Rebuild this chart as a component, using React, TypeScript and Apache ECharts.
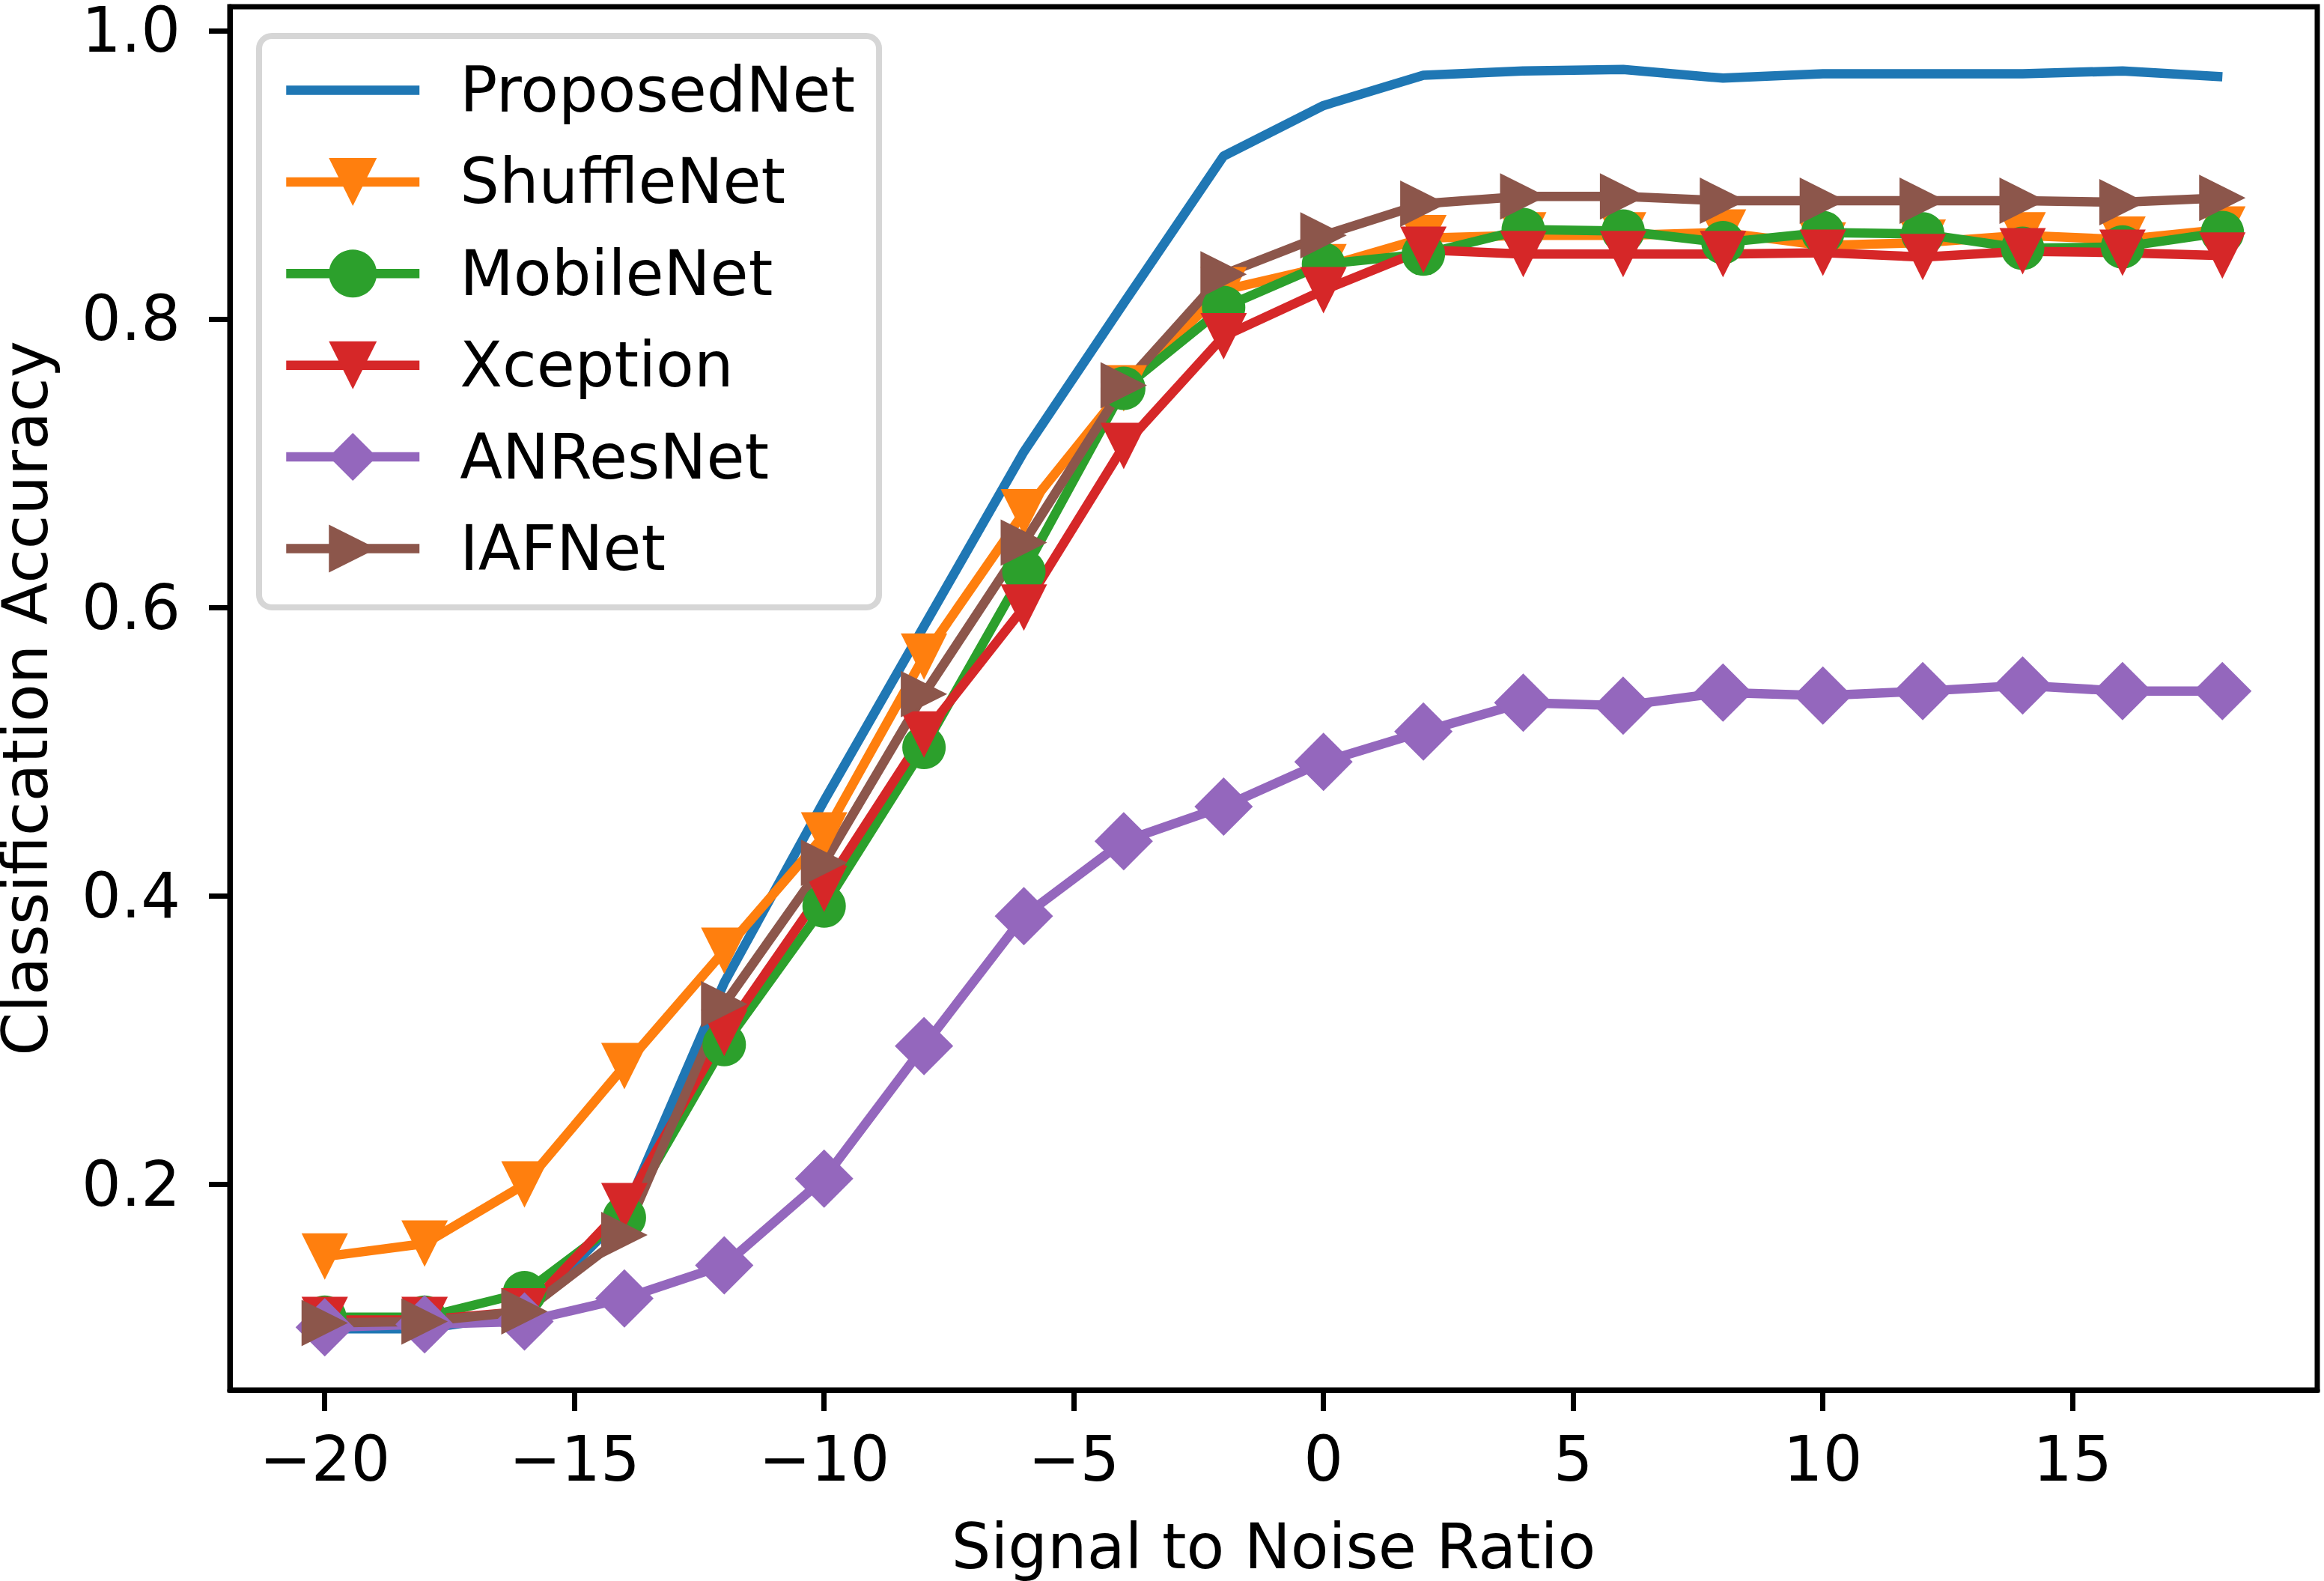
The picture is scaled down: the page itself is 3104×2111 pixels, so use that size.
import React, { useEffect, useRef } from "react";
import * as echarts from "echarts";

const snr = [-20, -18, -16, -14, -12, -10, -8, -6, -4, -2, 0, 2, 4, 6, 8, 10, 12, 14, 16, 18];
const proposedNet = [0.1, 0.1, 0.11, 0.18, 0.34, 0.466, 0.587, 0.708, 0.811, 0.913, 0.948, 0.969, 0.972, 0.973, 0.967, 0.97, 0.97, 0.97, 0.972, 0.968];
const shuffleNet = [0.15, 0.159, 0.2, 0.282, 0.362, 0.442, 0.566, 0.666, 0.752, 0.82, 0.836, 0.856, 0.858, 0.858, 0.86, 0.851, 0.853, 0.858, 0.855, 0.862];
const mobileNet = [0.108, 0.108, 0.125, 0.177, 0.297, 0.393, 0.503, 0.625, 0.752, 0.808, 0.838, 0.845, 0.862, 0.861, 0.853, 0.86, 0.859, 0.849, 0.85, 0.86];
const xception = [0.106, 0.106, 0.112, 0.185, 0.305, 0.405, 0.512, 0.6, 0.712, 0.788, 0.82, 0.848, 0.845, 0.845, 0.845, 0.846, 0.843, 0.847, 0.846, 0.844];
const anResNet = [0.101, 0.103, 0.105, 0.121, 0.144, 0.204, 0.296, 0.386, 0.438, 0.462, 0.493, 0.514, 0.534, 0.532, 0.541, 0.539, 0.542, 0.546, 0.542, 0.542];
const iafNet = [0.104, 0.105, 0.112, 0.165, 0.325, 0.423, 0.54, 0.645, 0.754, 0.831, 0.858, 0.88, 0.885, 0.885, 0.882, 0.882, 0.882, 0.882, 0.881, 0.884];

const xTicks = [-20, -15, -10, -5, 0, 5, 10, 15];
const yTicks = [0.2, 0.4, 0.6, 0.8, 1.0];

const FONT = "DejaVu Sans";
const FS = 83;
const LW = 12.5;

function pairs(ys: number[]) {
  return snr.map((x, i) => [x, ys[i]]);
}

export default function App() {
  const ref = useRef<HTMLDivElement>(null);
  useEffect(() => {
    if (!ref.current) return;
    const chart = echarts.init(ref.current, undefined, { renderer: "svg" });
    const mk = (name: string, data: number[], color: string, symbol: string, size: number, rotate = 0) => ({
      type: "line",
      name,
      data: pairs(data),
      symbol,
      symbolSize: size,
      symbolRotate: rotate,
      showSymbol: symbol !== "none",
      showAllSymbol: true,
      color,
      lineStyle: { width: LW, color, join: "round", cap: "butt" },
      itemStyle: { color, borderWidth: 0 },
      emphasis: { disabled: true },
      silent: true,
    });
    chart.setOption({
      animation: false,
      backgroundColor: "#ffffff",
      grid: {
        left: 307,
        right: 9,
        top: 9,
        bottom: 255,
        show: true,
        borderColor: "#000000",
        borderWidth: 7,
        backgroundColor: "transparent",
        containLabel: false,
        outerBoundsMode: "none",
      },
      legend: {
        orient: "vertical",
        left: 346,
        top: 48,
        padding: [31, 32, 37, 30],
        itemWidth: 178,
        itemHeight: 80,
        itemGap: 39.4,
        backgroundColor: "rgba(255,255,255,0.8)",
        borderColor: "#d6d6d6",
        borderWidth: 8,
        borderRadius: 17,
        selectedMode: false,
        lineStyle: { width: LW },
        itemStyle: { borderWidth: 0 },
        textStyle: {
          fontFamily: FONT,
          fontSize: FS,
          color: "#000000",
          lineHeight: 80,
          padding: [0, 0, 0, 49],
        },
        data: [
          { name: "ProposedNet", icon: "path://M0,0L178,0L178,12.5L0,12.5Z" },
          { name: "ShuffleNet" },
          { name: "MobileNet" },
          { name: "Xception" },
          { name: "ANResNet" },
          { name: "IAFNet" },
        ],
      },
      xAxis: {
        type: "value",
        min: -21.9,
        max: 19.9,
        name: "Signal to Noise Ratio",
        nameLocation: "middle",
        nameGap: 174,
        nameTextStyle: { fontFamily: FONT, fontSize: FS, color: "#000000", lineHeight: 70 },
        axisLine: { show: true, onZero: false, lineStyle: { color: "#000000", width: 7 } },
        axisTick: {
          show: true,
          length: 28,
          lineStyle: { color: "#000000", width: 7 },
          customValues: xTicks,
        },
        axisLabel: {
          show: true,
          margin: 51,
          fontFamily: FONT,
          fontSize: FS,
          color: "#000000",
          lineHeight: 83,
          customValues: xTicks,
          formatter: (v: number) => (v < 0 ? "\u2212" + Math.abs(v) : String(v)),
        },
        splitLine: { show: false },
      },
      yAxis: {
        type: "value",
        min: 0.0575,
        max: 1.0165,
        name: "Classification Accuracy",
        nameLocation: "middle",
        nameRotate: 90,
        nameGap: 240,
        nameTextStyle: { fontFamily: FONT, fontSize: FS, color: "#000000", lineHeight: 66 },
        axisLine: { show: true, onZero: false, lineStyle: { color: "#000000", width: 7 } },
        axisTick: {
          show: true,
          length: 28,
          lineStyle: { color: "#000000", width: 7 },
          customValues: yTicks,
        },
        axisLabel: {
          show: true,
          margin: 66,
          fontFamily: FONT,
          fontSize: FS,
          color: "#000000",
          lineHeight: 62,
          customValues: yTicks,
          formatter: (v: number) => v.toFixed(1),
        },
        splitLine: { show: false },
      },
      series: [
        mk("ProposedNet", proposedNet, "#1f77b4", "none", 0),
        mk("ShuffleNet", shuffleNet, "#ff7f0e", "triangle", 62, 180),
        mk("MobileNet", mobileNet, "#2ca02c", "circle", 58),
        mk("Xception", xception, "#d62728", "triangle", 62, 180),
        mk("ANResNet", anResNet, "#9467bd", "diamond", 78),
        mk("IAFNet", iafNet, "#8c564b", "triangle", 62, -90),
      ],
    } as any);
    return () => chart.dispose();
  }, []);
  return (
    <div
      ref={ref}
      style={{ position: "fixed", left: 0, top: 0, width: 3104, height: 2111, background: "#ffffff" }}
    />
  );
}
